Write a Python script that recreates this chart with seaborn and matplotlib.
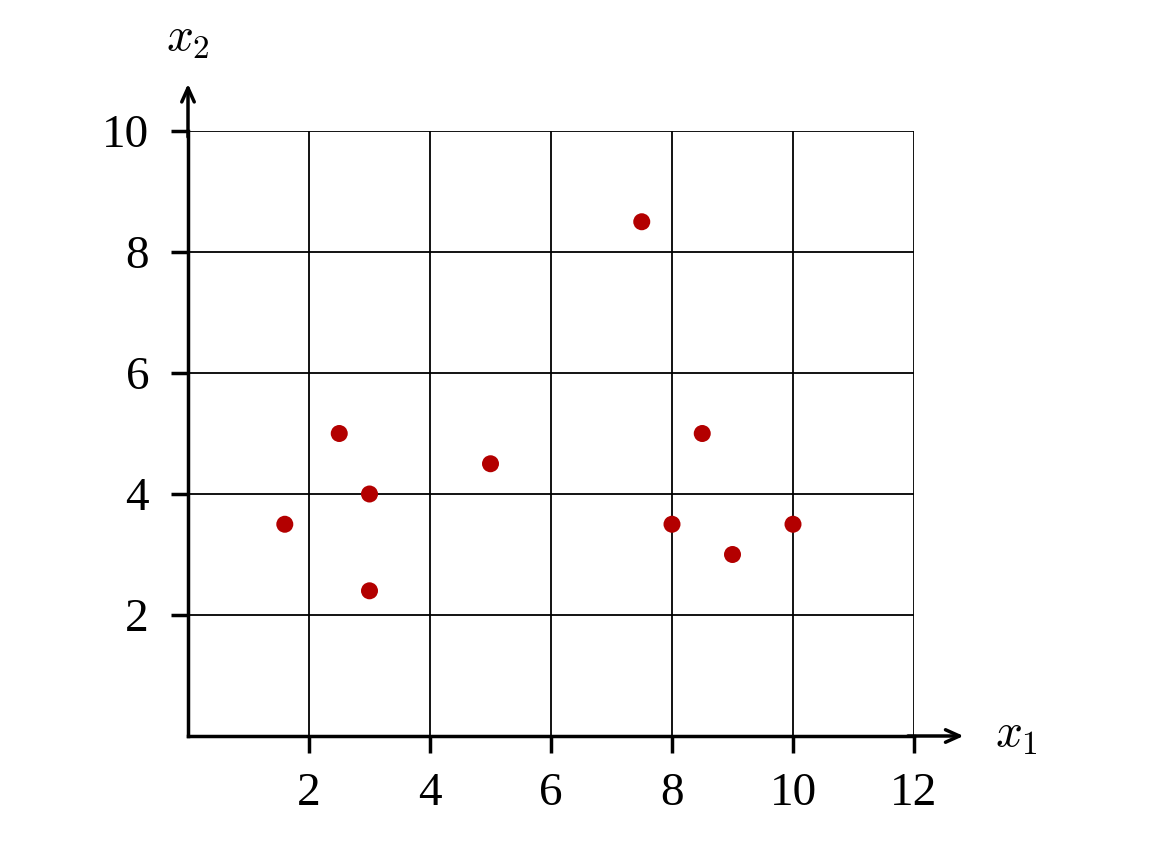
import matplotlib
matplotlib.use("Agg")
import matplotlib.pyplot as plt
import seaborn as sns
import pandas as pd

x1 = [1.6, 2.5, 3.0, 3.0, 5.0, 7.5, 8.5, 8.0, 9.0, 10.0]
x2 = [3.5, 5.0, 4.0, 2.4, 4.5, 8.5, 5.0, 3.5, 3.0, 3.5]
xticks = [2, 4, 6, 8, 10, 12]
yticks = [2, 4, 6, 8, 10]

sns.set_style("white")
plt.rcParams['font.family'] = ['Liberation Serif', 'DejaVu Serif']
plt.rcParams['mathtext.fontset'] = 'cm'
plt.rcParams['text.color'] = 'black'
plt.rcParams['xtick.color'] = 'black'
plt.rcParams['ytick.color'] = 'black'

df = pd.DataFrame({"x1": x1, "x2": x2})

fig = plt.figure(figsize=(11.54, 8.5), dpi=100)
ax = fig.add_axes([188/1154, 1-736/850, (914-188)/1154, (736-131)/850])

sns.scatterplot(data=df, x="x1", y="x2", ax=ax, color="#b30000", s=150,
                edgecolor="none", zorder=3, clip_on=False)

ax.set_xlim(0, 12)
ax.set_ylim(0, 10)
ax.set_xticks(xticks)
ax.set_yticks(yticks)
ax.set_xticklabels([str(t) for t in xticks])
ax.set_yticklabels([str(t) for t in yticks])
ax.grid(True, color="black", linewidth=1.3)
ax.set_axisbelow(True)
for s in ["top", "right"]:
    ax.spines[s].set_visible(False)
for s in ["left", "bottom"]:
    ax.spines[s].set_linewidth(2.5)
    ax.spines[s].set_color("black")
ax.tick_params(axis="both", bottom=True, left=True, direction="out", length=12,
               width=2.5, labelsize=34, colors="black")
ax.tick_params(axis="x", pad=14)
ax.tick_params(axis="y", pad=16)
ax.set_xlabel("")
ax.set_ylabel("")

# arrows
ax.annotate("", xy=(12.82, 0), xytext=(11.9, 0), xycoords="data",
            arrowprops=dict(arrowstyle="->,head_length=1.0,head_width=0.45", lw=2.5,
                            color="black", shrinkA=0, shrinkB=0),
            annotation_clip=False)
ax.annotate("", xy=(0, 10.78), xytext=(0, 9.9), xycoords="data",
            arrowprops=dict(arrowstyle="->,head_length=1.0,head_width=0.45", lw=2.5,
                            color="black", shrinkA=0, shrinkB=0),
            annotation_clip=False)

ax.text(13.7, 0.0, r"$x_1$", fontsize=34, ha="center", va="center", clip_on=False)
ax.text(0.0, 11.5, r"$x_2$", fontsize=34, ha="center", va="center", clip_on=False)

fig.savefig("out.png", dpi=100)
